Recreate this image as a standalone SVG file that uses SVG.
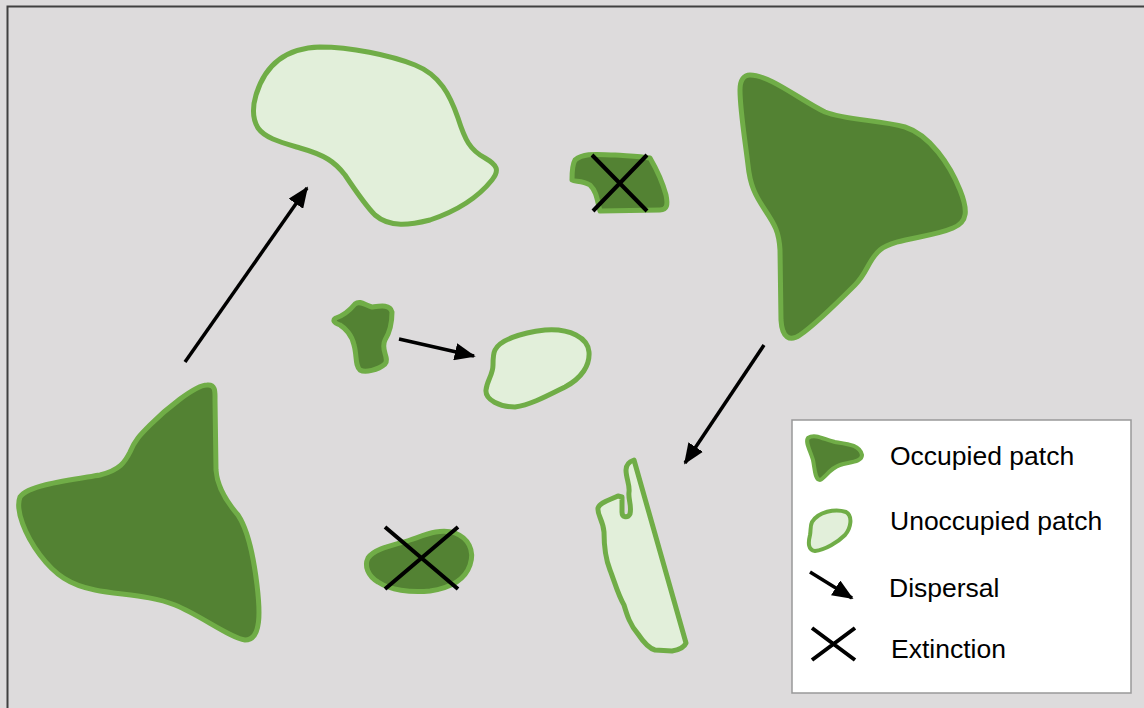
<svg xmlns="http://www.w3.org/2000/svg" width="1144" height="708" viewBox="0 0 1144 708">
<style>
.occ{fill:#538233;stroke:#70ad47;stroke-width:5;stroke-linejoin:round}
.unocc{fill:#e2efda;stroke:#70ad47;stroke-width:5;stroke-linejoin:round}
.arr{stroke:#000;stroke-width:3.5;fill:none;marker-end:url(#ah)}
.x{stroke:#000;stroke-width:4;fill:none}
.lbl{font-family:"Liberation Sans",Arial,sans-serif;font-size:26.5px;fill:#000}
</style>
<defs>
<marker id="ah" markerWidth="6" markerHeight="5" refX="5.5" refY="2.5" orient="auto" markerUnits="strokeWidth">
<path d="M0,0 L6,2.5 L0,5 Z" fill="#000"/>
</marker>
</defs>
<rect x="0" y="0" width="1144" height="708" fill="#dddbdc"/>
<rect x="7.5" y="6.5" width="1150" height="720" fill="none" stroke="#404040" stroke-width="2"/>

<g id="patch-bl">
<path class="occ" d="M 207,385 C 216,384 215,393 215,400 L 216,470 C 217,485 225,500 238,515 C 248,530 254,560 257,585 C 260,610 262,640 245,640 C 230,638 200,615 175,605 C 150,595 120,595 95,590 C 70,585 55,575 40,555 C 25,535 15,510 20,497 C 28,485 70,480 100,475 C 120,470 125,462 130,452 C 135,440 140,435 150,425 C 165,410 195,385 207,385 Z"/>
</g>
<g id="patch-tr">
<path class="occ" d="M 750,75 C 770,75 800,100 825,112 C 845,120 880,120 905,127 C 930,135 950,165 960,190 C 968,210 968,222 953,228 C 930,238 895,238 880,250 C 868,260 868,272 855,285 C 840,300 815,325 800,335 C 790,342 782,338 781,320 L 780,250 C 779,232 775,225 765,210 C 755,195 750,185 748,165 C 745,140 740,110 740,90 C 740,80 744,75 750,75 Z"/>
</g>
<g id="patch-top">
<path class="unocc" d="M 256,95 C 265,65 285,48 320,47 C 350,47 390,55 415,65 C 440,75 450,95 458,118 C 465,140 470,150 485,158 C 497,165 500,170 492,180 C 480,195 460,210 430,220 C 410,225 390,228 375,215 C 365,205 355,190 345,175 C 335,162 325,155 300,148 C 280,142 265,138 258,128 C 252,118 253,105 256,95 Z"/>
</g>
<g id="patch-small-x">
<path class="occ" d="M 575,160 C 585,152 600,155 615,155 C 630,156 640,156 650,158 C 657,170 662,180 666,195 C 668,205 667,210 660,210 L 600,211 C 597,200 597,192 590,185 C 582,180 575,182 572,180 C 572,172 572,165 575,160 Z"/>
<path class="x" d="M 592,155 L 647,211 M 647,155 L 593,211"/>
</g>
<g id="patch-mid-occ">
<path class="occ" d="M 336,318 C 345,315 350,310 355,304 C 360,300 365,305 372,307 C 380,306 390,304 392,312 C 392,320 390,332 385,340 C 380,350 390,358 385,364 C 378,370 365,373 360,370 C 355,366 357,355 354,345 C 352,335 345,328 340,325 C 334,323 332,320 336,318 Z"/>
</g>
<g id="patch-mid-unocc">
<path class="unocc" d="M 495,350 C 500,340 520,333 545,330 C 570,328 588,338 589,352 C 590,365 582,378 565,387 C 545,397 530,405 515,407 C 500,407 485,400 486,390 C 487,380 493,375 493,365 C 493,358 493,354 495,350 Z"/>
</g>
<g id="patch-bottom-x">
<path class="occ" d="M 368,558 C 375,548 395,545 410,540 C 425,535 440,528 455,533 C 468,538 475,550 470,565 C 465,580 450,588 430,591 C 410,593 390,590 378,582 C 368,576 364,566 368,558 Z"/>
<path class="x" d="M 385,527 L 458,589 M 458,527 L 385,589"/>
</g>
<g id="patch-tall">
<path class="unocc" d="M 634,460 L 686,643 C 684,648 678,650 672,651 L 655,650 C 648,648 642,640 638,634 C 630,625 627,615 624,605 C 618,595 614,580 610,570 C 606,560 604,545 604,532 C 603,520 597,515 598,508 C 600,502 610,500 618,496 L 622,497 L 622,512 C 622,518 628,518 630,514 C 632,505 628,500 629,492 C 630,485 626,478 626,470 C 626,465 628,462 634,460 Z"/>
</g>

<g id="connectors">
<line class="arr" x1="185" y1="362" x2="307" y2="188"/>
<line class="arr" x1="399" y1="339" x2="474" y2="356"/>
<line class="arr" x1="764" y1="345" x2="685" y2="463"/>
</g>

<g id="legend">
<rect x="792" y="420" width="339" height="273" fill="#ffffff" stroke="#999999" stroke-width="1.5"/>
<path class="occ" style="stroke-width:4" d="M 808,438 C 815,433 825,440 835,442 C 848,444 860,445 862,455 C 862,462 850,462 840,465 C 830,468 825,478 820,480 C 815,480 815,470 813,460 C 810,450 805,442 808,438 Z"/>
<text class="lbl" x="890" y="465">Occupied patch</text>
<path class="unocc" style="stroke-width:4" d="M 812,522 C 818,512 835,508 846,512 C 853,516 851,528 845,535 C 838,542 825,550 815,551 C 808,550 808,543 810,535 C 811,530 810,526 812,522 Z"/>
<text class="lbl" x="890" y="530">Unoccupied patch</text>
<line class="arr" x1="810" y1="572" x2="852" y2="598"/>
<text class="lbl" x="889" y="597">Dispersal</text>
<path class="x" d="M 812,628 L 855,660 M 855,628 L 812,660"/>
<text class="lbl" x="891" y="658">Extinction</text>
</g>
</svg>
